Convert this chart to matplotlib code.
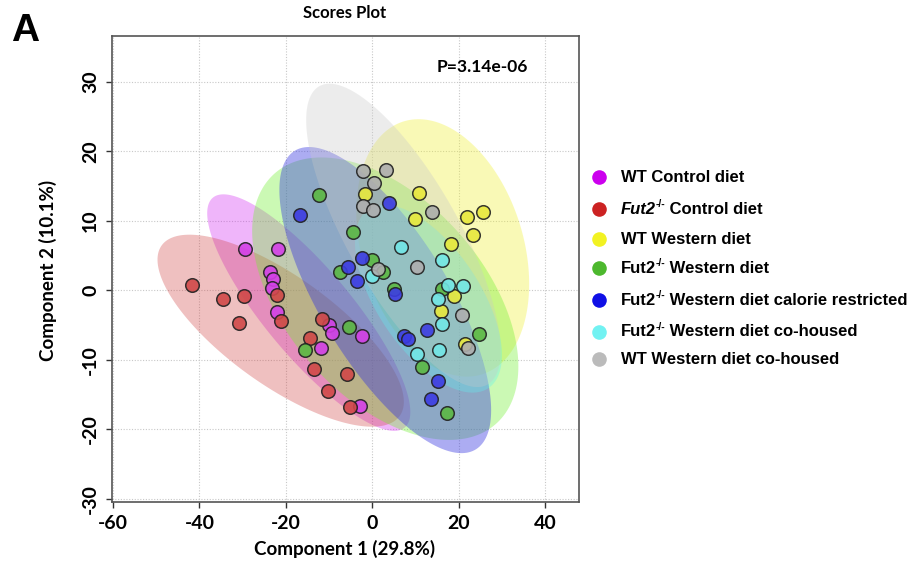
import numpy as np
import matplotlib
matplotlib.use("Agg")
import matplotlib.pyplot as plt

plt.rcParams["axes.unicode_minus"] = False
W, H = 913, 564

# ---------------- data ----------------
wt_control_x = [-29.4, -21.9, -23.6, -23.0, -23.3, -22.0, -10.1, -9.3, -2.4, -11.8, -2.8]
wt_control_y = [5.9, 5.9, 2.7, 1.6, 0.3, -3.1, -5.0, -6.1, -6.6, -8.3, -16.6]

fut2_control_x = [-41.7, -34.6, -29.6, -30.9, -22.0, -21.1, -11.7, -14.5, -13.5, -5.8, -10.3, -5.2]
fut2_control_y = [0.8, -1.2, -0.8, -4.7, -0.6, -4.4, -4.1, -6.9, -11.3, -12.0, -14.4, -16.8]

wt_western_x = [-1.6, 10.9, 9.8, 21.8, 25.7, 23.3, 18.2, 19.0, 15.8, 21.5]
wt_western_y = [13.9, 14.0, 10.2, 10.6, 11.3, 7.9, 6.7, -0.8, -3.0, -7.7]

fut2_western_x = [-12.4, -4.5, 0.0, -7.5, 2.4, 5.1, -5.3, -15.5, 11.5, 16.1, 24.7, 17.4]
fut2_western_y = [13.7, 8.4, 4.3, 2.6, 2.7, 0.2, -5.3, -8.6, -11.0, 0.2, -6.3, -17.6]

fut2_cr_x = [-16.7, 3.8, -2.4, -5.6, -3.6, 5.3, 7.4, 8.2, 12.6, 15.3, 13.6]
fut2_cr_y = [10.8, 12.6, 4.6, 3.4, 1.4, -0.5, -6.6, -7.0, -5.7, -13.1, -15.6]

fut2_coh_x = [6.7, -0.1, 16.2, 17.5, 21.1, 15.1, 16.1, 10.3, 15.5]
fut2_coh_y = [6.3, 2.1, 4.4, 0.7, 0.6, -1.3, -4.8, -9.1, -8.6]

wt_coh_x = [-2.1, 3.2, 0.3, -2.1, 0.2, 13.7, 10.3, 1.4, 20.7, 22.1]
wt_coh_y = [17.2, 17.3, 15.5, 12.1, 11.5, 11.2, 3.3, 3.0, -3.5, -8.3]

group_names = ["WT Control diet", "Fut2 Control diet", "WT Western diet",
               "Fut2 Western diet", "Fut2 Western diet calorie restricted",
               "Fut2 Western diet co-housed", "WT Western diet co-housed"]
group_x = [wt_control_x, fut2_control_x, wt_western_x, fut2_western_x,
           fut2_cr_x, fut2_coh_x, wt_coh_x]
group_y = [wt_control_y, fut2_control_y, wt_western_y, fut2_western_y,
           fut2_cr_y, fut2_coh_y, wt_coh_y]

# 95% confidence ellipses (same group order):
# centre, half-extent along x and y, and x/y correlation
ellipse_cx = [-14.7, -21.2, 16.3, 3.0, 3.0, 13.0, 7.2]
ellipse_cy = [-3.2, -5.8, 6.1, -1.2, -1.4, -1.2, 7.9]
ellipse_hx = [23.5, 28.5, 20.0, 30.8, 24.5, 17.0, 22.5]
ellipse_hy = [17.0, 13.8, 18.5, 20.3, 22.0, 13.5, 21.8]
ellipse_r = [-0.84, -0.74, -0.28, -0.48, -0.72, -0.60, -0.76]

x_ticks = [-60, -40, -20, 0, 20, 40]
y_ticks = [-30, -20, -10, 0, 10, 20, 30]
p_text = "P=3.14e-06"
x_label = "Component 1 (29.8%)"
y_label = "Component 2 (10.1%)"
title = "Scores Plot"

# ---------------- styles ----------------
point_colors = ["#D440E8", "#D04848", "#E8E83C", "#5CB843", "#3C3CE2", "#72E6E6", "#AEAEAE"]
ellipse_colors = ["#D020F0", "#D04040", "#F0F030", "#70F030", "#3030E0", "#60F0F0", "#C8C8C8"]
ellipse_alpha = [0.33, 0.33, 0.35, 0.36, 0.40, 0.33, 0.33]
legend_colors = ["#CC00EE", "#CC2222", "#F2F222", "#4DB82E", "#1010E6", "#72F2F2", "#BBBBBB"]

CAL = "Lato"
ARIAL = "Liberation Sans"

fig = plt.figure(figsize=(W / 100, H / 100), dpi=100)
ax = fig.add_axes([111.7 / W, 1 - 501.5 / H, (579.3 - 111.7) / W, (501.5 - 35.7) / H])
ax.set_xlim(-60.3, 47.9)
ax.set_ylim(-30.35, 36.6)

ax.set_xticks(x_ticks)
ax.set_yticks(y_ticks)
ax.grid(True, linestyle=(0, (1, 1.5)), color="#C8C8C8", linewidth=0.8, zorder=0)
ax.set_axisbelow(True)
for sp in ax.spines.values():
    sp.set_color("#555555")
    sp.set_linewidth(1.2)
ax.tick_params(direction="out", length=4, width=1.0, color="#333333")
ax.tick_params(axis="x", pad=6)
ax.tick_params(axis="y", pad=5)
for lab in ax.get_xticklabels():
    lab.set_fontfamily(CAL); lab.set_fontweight("bold"); lab.set_fontsize(14)
for lab in ax.get_yticklabels():
    lab.set_fontfamily(CAL); lab.set_fontweight("bold"); lab.set_fontsize(14)
    lab.set_rotation(90); lab.set_va("center")

# ellipses
theta = np.linspace(0, 2 * np.pi, 200)
for cx, cy, hx, hy, r, col, al in zip(ellipse_cx, ellipse_cy, ellipse_hx, ellipse_hy,
                                      ellipse_r, ellipse_colors, ellipse_alpha):
    ex = cx + hx * np.cos(theta)
    ey = cy + hy * (r * np.cos(theta) + np.sqrt(1 - r * r) * np.sin(theta))
    ax.fill(ex, ey, facecolor=col, alpha=al, edgecolor="none", zorder=1)

for gx, gy, col in zip(group_x, group_y, point_colors):
    ax.scatter(gx, gy, s=95, facecolor=col, edgecolor="#222222",
               linewidths=1.1, alpha=0.9, zorder=3)

fig.text(482 / W, 1 - 67 / H, p_text, fontfamily=CAL, fontweight="bold",
         fontsize=12.5, ha="center", va="center")
fig.text(345 / W, 1 - 13 / H, title, fontfamily=CAL, fontweight="bold",
         fontsize=12, ha="center", va="center")
fig.text(25 / W, 1 - 31 / H, "A", fontfamily=ARIAL, fontweight="bold",
         fontsize=28, ha="center", va="center")
fig.text(345 / W, 1 - 549 / H, x_label, fontfamily=CAL, fontweight="bold",
         fontsize=13.5, ha="center", va="center")
fig.text(48 / W, 1 - 270 / H, y_label, fontfamily=CAL, fontweight="bold",
         fontsize=13.5, ha="center", va="center", rotation=90)

# ---------------- legend ----------------
legend_rows_y = [177.3, 209, 239, 268.3, 300.3, 331.7, 359]
renderer = fig.canvas.get_renderer()
LFS = 12


def draw_pieces(x, y, pieces):
    for txt, kw in pieces:
        base = dict(fontfamily=ARIAL, fontweight="bold", fontsize=LFS, va="center", ha="left")
        dy = kw.pop("dy", 0)
        base.update(kw)
        t = fig.text(x / W, 1 - (y - dy) / H, txt, **base)
        bb = t.get_window_extent(renderer)
        x += bb.width


for i, (name, col, ry) in enumerate(zip(group_names, legend_colors, legend_rows_y)):
    fig.add_artist(plt.Line2D([599 / W], [1 - ry / H], marker="o", markersize=10.5,
                              markerfacecolor=col, markeredgecolor="none",
                              linestyle="none", transform=fig.transFigure))
    if name.startswith("Fut2"):
        rest = name[len("Fut2"):]
        first = dict(style="italic") if i == 1 else {}
        draw_pieces(620.7, ry, [("Fut2", first),
                                ("-/-", dict(fontsize=7.5, dy=5)),
                                (rest, {})])
    else:
        draw_pieces(620.7, ry, [(name, {})])

fig.savefig("out.png", dpi=100)
